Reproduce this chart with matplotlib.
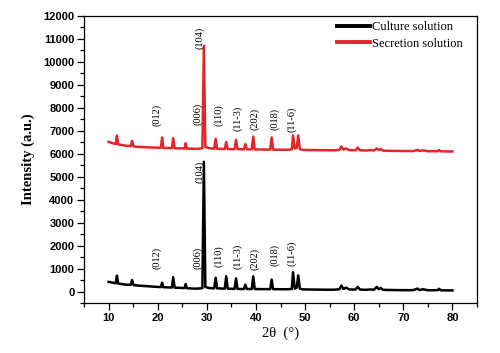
import matplotlib.pyplot as plt

# 2-theta positions (deg) and intensities
culture_2theta = [10, 10.5, 11, 11.45, 11.7, 11.95, 12.5, 13.5, 14.5, 14.8, 15.1, 16, 17, 18,
                  19, 20, 20.65, 20.9, 21.15, 22, 22.9, 23.15, 23.45, 24.5, 25.45, 25.7, 25.95,
                  27, 28, 29.1, 29.4, 29.7, 30.5, 31.5, 31.8, 32.1, 33, 33.65, 33.95, 34.25, 35,
                  35.65, 35.95, 36.25, 37, 37.55, 37.85, 38.15, 39.15, 39.45, 39.75, 41, 42.9,
                  43.2, 43.5, 45, 46.5, 47.3, 47.55, 47.9, 48.3, 48.6, 48.95, 49.5, 50.5, 52, 54,
                  56, 57, 57.4, 57.8, 58.3, 59, 60.3, 60.7, 61.2, 62.5, 63.2, 64, 64.6, 65, 65.4,
                  65.8, 66.5, 68, 70, 72, 72.9, 73.3, 74, 75, 77, 77.3, 77.6, 79, 80]
culture_int = [420, 400, 380, 360, 690, 350, 330, 300, 290, 500, 280, 260, 245, 230,
               215, 200, 195, 380, 190, 180, 175, 620, 170, 160, 150, 330, 145,
               130, 125, 150, 5650, 200, 150, 140, 600, 140, 130, 125, 670, 125, 120,
               115, 570, 115, 110, 110, 300, 110, 110, 660, 110, 105, 105,
               520, 105, 100, 100, 110, 840, 130, 160, 700, 120, 95, 90, 85, 80,
               80, 100, 260, 110, 170, 90, 85, 200, 85, 75, 90, 80, 200, 100, 160,
               80, 70, 65, 60, 60, 130, 60, 100, 55, 60, 120, 55, 50, 50]

secretion_2theta = culture_2theta
secretion_int = [6520, 6480, 6450, 6420, 6790, 6410, 6390, 6350, 6330, 6560, 6320, 6300, 6290,
                 6280, 6270, 6265, 6260, 6710, 6255, 6250, 6245, 6680, 6240, 6235, 6230, 6460,
                 6225, 6220, 6215, 6240, 10700, 6300, 6240, 6220, 6650, 6220, 6210, 6205, 6510,
                 6205, 6200, 6200, 6610, 6200, 6195, 6195, 6420, 6195, 6190, 6750, 6190, 6185,
                 6180, 6710, 6180, 6175, 6175, 6190, 6800, 6230, 6250, 6800, 6200, 6170, 6165,
                 6160, 6155, 6150, 6170, 6320, 6180, 6230, 6160, 6155, 6270, 6150, 6140, 6160,
                 6140, 6230, 6160, 6210, 6140, 6130, 6125, 6120, 6115, 6170, 6115, 6150, 6110,
                 6110, 6160, 6110, 6100, 6100]

labels = ["(012)", "(006)", "(104)", "(110)", "(11-3)", "(202)", "(018)", "(11-6)"]
label_x = [19.8, 28.2, 28.6, 32.4, 36.3, 39.7, 43.9, 47.3]
upper_label_y = [7680, 7720, 11040, 7700, 7520, 7510, 7510, 7500]
lower_label_y = [1450, 1470, 5220, 1540, 1540, 1400, 1610, 1650]

serif = "Liberation Serif"
sans = "Liberation Sans"

fig = plt.figure(figsize=(5.0, 3.53), dpi=100)
ax = fig.add_axes([0.168, 0.1416, 0.786, 0.8131])

ax.plot(culture_2theta, culture_int, color="black", lw=1.8, label="Culture solution")
ax.plot(secretion_2theta, secretion_int, color="#e3262b", lw=1.8, label="Secretion solution")

for lab, x, y in zip(labels, label_x, upper_label_y):
    ax.text(x, y, lab, rotation=90, ha="center", va="center", fontsize=7.5, family=serif)
for lab, x, y in zip(labels, label_x, lower_label_y):
    ax.text(x, y, lab, rotation=90, ha="center", va="center", fontsize=7.5, family=serif)

ax.set_xlim(5, 85)
ax.set_ylim(-500, 12000)
ax.set_xticks(range(10, 81, 10))
ax.set_xticks(range(5, 86, 5), minor=True)
ax.set_yticks(range(0, 12001, 1000))
ax.set_yticks(range(-500, 12001, 500), minor=True)

for side in ["top", "right", "left", "bottom"]:
    ax.spines[side].set_linewidth(0.9)
ax.tick_params(which="major", direction="out", length=5, width=0.9, pad=2)
ax.tick_params(which="minor", direction="out", length=3, width=0.9)
for lbl in ax.get_xticklabels() + ax.get_yticklabels():
    lbl.set_family(sans)
    lbl.set_fontweight("bold")
    lbl.set_fontsize(8)

ax.set_ylabel("Intensity (a.u.)", family=serif, fontweight="bold", fontsize=10.5, labelpad=6)
ax.set_xlabel("2θ  (°)", family=serif, fontsize=10.5, labelpad=3)

ax.legend(loc="upper left", bbox_to_anchor=(0.635, 0.995), frameon=False,
          prop={"family": serif, "size": 9}, handlelength=2.6, handletextpad=0.2,
          borderaxespad=0, borderpad=0.3, labelspacing=0.35)
for line in ax.get_legend().get_lines():
    line.set_linewidth(2.8)

fig.savefig("out.png", dpi=100)
